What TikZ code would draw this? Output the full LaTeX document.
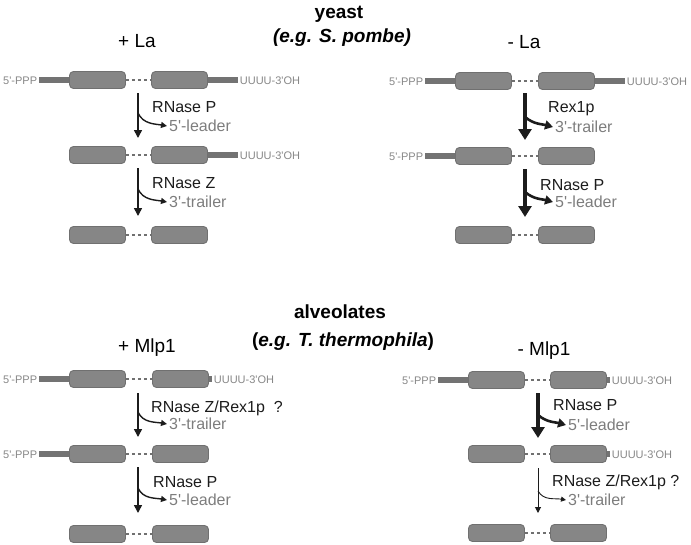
\documentclass[tikz,border=0pt]{standalone}
\usepackage{fontspec}
\setmainfont{Liberation Sans}
\usetikzlibrary{arrows.meta}
\definecolor{boxgray}{RGB}{134,134,134}
\definecolor{edgegray}{RGB}{112,112,112}
\definecolor{tailgray}{RGB}{115,115,115}
\definecolor{txtgray}{RGB}{135,135,135}
\definecolor{prodgray}{RGB}{125,125,125}
\definecolor{ink}{RGB}{28,28,28}
\newcommand{\q}{\textquotesingle}

\begin{document}
\begin{tikzpicture}[x=1pt,y=-1pt,
  head/.style={font=\fontsize{19}{22}\selectfont\bfseries,text=black,inner sep=0pt,anchor=base},
  cond/.style={font=\fontsize{19}{22}\selectfont,text=black,inner sep=0pt,anchor=base},
  tail/.style={fill=tailgray,minimum width=32pt,minimum height=6pt,inner sep=0pt},
  stub/.style={fill=tailgray,minimum width=4pt,minimum height=6pt,inner sep=0pt},
  endlbl/.style={text=txtgray,font=\fontsize{11}{13}\selectfont,inner sep=1.5pt,text height=8pt,text depth=0pt},
  intron/.style={draw=edgegray,line width=1.2pt,dash pattern=on 3pt off 3pt},
  enz/.style={text=ink,font=\fontsize{16}{19}\selectfont,inner sep=1pt,anchor=west,text height=11.5pt,text depth=0pt},
  prod/.style={text=prodgray,font=\fontsize{16}{19}\selectfont,inner sep=2pt,anchor=west,text height=11.5pt,text depth=0pt},
  flow/.style={draw=ink,line width=1.5pt,-{Triangle[length=8pt,width=8pt]}},
  cut/.style={draw=ink,line width=1.4pt,-{Triangle[length=6pt,width=6pt]}},
  bigflow/.style={draw=ink,line width=3.6pt,-{Triangle[length=11pt,width=13pt]}},
  bigcut/.style={draw=ink,line width=2.6pt,-{Triangle[length=8pt,width=9pt]}},
  smallflow/.style={draw=ink,line width=1pt,-{Triangle[length=6pt,width=6pt]}},
  smallcut/.style={draw=ink,line width=0.9pt,-{Triangle[length=5pt,width=5pt]}}]
\useasboundingbox (0,0) rectangle (691,544);

\node[head] (yeast) at (339,18) {yeast};
\node[head] (yeastsub) at (342,42) {\itshape (e.g. S. pombe)};
\node[cond] (pLa) at (137,47) {+ La};
\node[cond] (mLa) at (524,48) {- La};
\node[head] (alv) at (340,318) {alveolates};
\node[head] (alvsub) at (343,346) {(\textit{e.g. T. thermophila})};
\node[cond] (pMlp) at (147,352) {+ Mlp1};
\node[cond] (mMlp) at (544,355) {- Mlp1};

\node[tail] (t1) at (55,80) {};
\node[tail] (t2) at (222,80) {};
\node[tail] (t4) at (222,155) {};
\node[tail] (t7) at (441,81) {};
\node[tail] (t8) at (609,81) {};
\node[tail] (t9) at (441,156) {};
\node[tail] (t13) at (55,379) {};
\node[stub] (t14) at (210,379) {};
\node[tail] (t15) at (55,454) {};
\node[tail] (t19) at (454,380) {};
\node[stub] (t20) at (608,380) {};
\node[stub] (t22) at (608,454) {};

\begin{scope}[every node/.style={draw=edgegray,fill=boxgray,line width=0.9pt,rounded corners=4pt,minimum width=56pt,minimum height=17pt,inner sep=0pt}]
\node (1) at (97.5,80) {};
\node (2) at (179.5,80) {};
\node (3) at (97.5,155) {};
\node (4) at (179.5,155) {};
\node (5) at (97.5,235) {};
\node (6) at (179.5,235) {};

\node (7) at (483.5,81) {};
\node (8) at (566.5,81) {};
\node (9) at (483.5,156) {};
\node (10) at (566.5,156) {};
\node (11) at (483.5,235) {};
\node (12) at (566.5,235) {};

\node (13) at (97.5,379) {};
\node (14) at (180.5,379) {};
\node (15) at (97.5,454) {};
\node (16) at (180.5,454) {};
\node (17) at (97.5,534) {};
\node (18) at (180.5,534) {};

\node (19) at (496.5,380) {};
\node (20) at (578.5,380) {};
\node (21) at (496.5,454) {};
\node (22) at (578.5,454) {};
\node (23) at (496.5,533) {};
\node (24) at (578.5,533) {};
\end{scope}

\draw[intron] (1) -- (2);
\draw[intron] (3) -- (4);
\draw[intron] (5) -- (6);
\draw[intron] (7) -- (8);
\draw[intron] (9) -- (10);
\draw[intron] (11) -- (12);
\draw[intron] (13) -- (14);
\draw[intron] (15) -- (16);
\draw[intron] (17) -- (18);
\draw[intron] (19) -- (20);
\draw[intron] (21) -- (22);
\draw[intron] (23) -- (24);

\node[endlbl,anchor=east] (f1) at (t1.west) {5\q-PPP};
\node[endlbl,anchor=west] (g2) at (t2.east) {UUUU-3\q OH};
\node[endlbl,anchor=west] (g4) at (t4.east) {UUUU-3\q OH};
\node[endlbl,anchor=east] (f7) at (t7.west) {5\q-PPP};
\node[endlbl,anchor=west] (g8) at (t8.east) {UUUU-3\q OH};
\node[endlbl,anchor=east] (f9) at (t9.west) {5\q-PPP};
\node[endlbl,anchor=east] (f13) at (t13.west) {5\q-PPP};
\node[endlbl,anchor=west] (g14) at (t14.east) {UUUU-3\q OH};
\node[endlbl,anchor=east] (f15) at (t15.west) {5\q-PPP};
\node[endlbl,anchor=east] (f19) at (t19.west) {5\q-PPP};
\node[endlbl,anchor=west] (g20) at (t20.east) {UUUU-3\q OH};
\node[endlbl,anchor=west] (g22) at (t22.east) {UUUU-3\q OH};

% + La
\node[enz] (z1) at (151,107) {RNase P};
\node[prod] (p1) at (167,126) {5\q-leader};
\coordinate (s1) at (138,93);
\coordinate (e1) at (138,138);
\coordinate (k1) at (138,113);
\draw[flow] (s1) -- (e1);
\draw[cut] (k1) to[out=-65,in=170] (p1.west);

\node[enz] (z2) at (151,183) {RNase Z};
\node[prod] (p2) at (167,202) {3\q-trailer};
\coordinate (s2) at (138,168);
\coordinate (e2) at (138,216);
\coordinate (k2) at (138,189);
\draw[flow] (s2) -- (e2);
\draw[cut] (k2) to[out=-65,in=170] (p2.west);

% - La
\node[enz] (z3) at (547,107) {Rex1p};
\node[prod] (p3) at (553,127) {3\q-trailer};
\coordinate (s3) at (525,93);
\coordinate (e3) at (525,140);
\coordinate (k3) at (525,117);
\draw[bigflow] (s3) -- (e3);
\draw[bigcut] (k3) to[out=-40,in=165] (p3.west);

\node[enz] (z4) at (539,185) {RNase P};
\node[prod] (p4) at (553,202) {5\q-leader};
\coordinate (s4) at (525,169);
\coordinate (e4) at (525,217);
\coordinate (k4) at (525,192);
\draw[bigflow] (s4) -- (e4);
\draw[bigcut] (k4) to[out=-40,in=165] (p4.west);

% + Mlp1
\node[enz] (z5) at (150,407) {RNase Z/Rex1p\ \ ?};
\node[prod] (p5) at (167,424) {3\q-trailer};
\coordinate (s5) at (138,393);
\coordinate (e5) at (138,437);
\coordinate (k5) at (138,412);
\draw[flow] (s5) -- (e5);
\draw[cut] (k5) to[out=-65,in=170] (p5.west);

\node[enz] (z6) at (152,482) {RNase P};
\node[prod] (p6) at (167,500) {5\q-leader};
\coordinate (s6) at (138,467);
\coordinate (e6) at (138,513);
\coordinate (k6) at (138,488);
\draw[flow] (s6) -- (e6);
\draw[cut] (k6) to[out=-65,in=170] (p6.west);

% - Mlp1
\node[enz] (z7) at (552,405) {RNase P};
\node[prod] (p7) at (566,425) {5\q-leader};
\coordinate (s7) at (538,393);
\coordinate (e7) at (538,438);
\coordinate (k7) at (538,415);
\draw[bigflow] (s7) -- (e7);
\draw[bigcut] (k7) to[out=-40,in=165] (p7.west);

\node[enz] (z8) at (551,481) {RNase Z/Rex1p ?};
\node[prod] (p8) at (566,500) {3\q-trailer};
\coordinate (s8) at (538,468);
\coordinate (e8) at (538,513);
\coordinate (k8) at (538,491);
\draw[smallflow] (s8) -- (e8);
\draw[smallcut] (k8) to[out=-60,in=170] (p8.west);

\end{tikzpicture}
\end{document}
